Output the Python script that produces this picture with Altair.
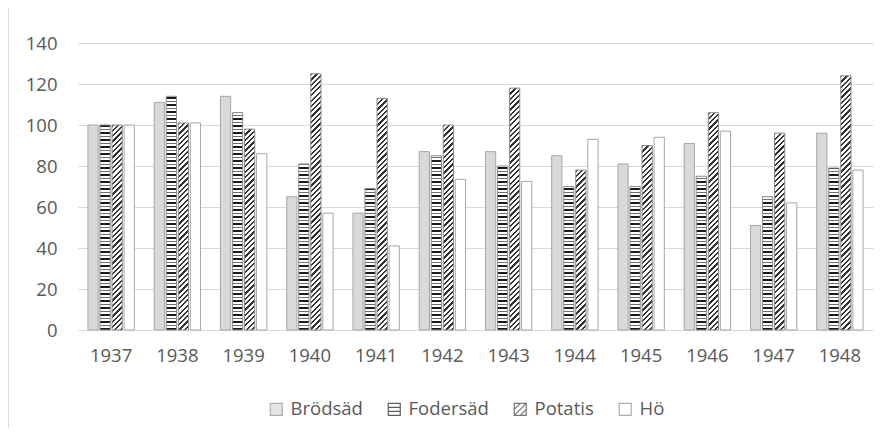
import math
import altair as alt
import pandas as pd

# ---------------- data ----------------
years = ["1937", "1938", "1939", "1940", "1941", "1942",
         "1943", "1944", "1945", "1946", "1947", "1948"]
series = ["Brödsäd", "Fodersäd", "Potatis", "Hö"]
brodsad = [100, 111, 114, 65, 57, 87, 87, 85, 81, 91, 51, 96]
fodersad = [100, 114, 106, 81, 69, 85, 80, 70, 70, 75, 65, 79]
potatis = [100, 101, 98, 125, 113, 100, 118, 78, 90, 106, 96, 124]
ho = [100, 101, 86, 57, 41, 73.5, 72.5, 93, 94, 97, 62, 78]
y_ticks = [0, 20, 40, 60, 80, 100, 120, 140]

values = {"Brödsäd": brodsad, "Fodersäd": fodersad, "Potatis": potatis, "Hö": ho}
rows = []
for s in series:
    for yr, v in zip(years, values[s]):
        rows.append({"year": yr, "series": s, "value": v})
df = pd.DataFrame(rows)

# ---------------- layout ----------------
W, H = 795, 287
YMAX = 140
PAD_L, PAD_T = 70, 35
CANVAS_W, CANVAS_H = 874, 420
X_PI, X_PO = 0.3, 0.15
OFF_PI = 0.15

FONT = "Open Sans"
TXT = "#595959"
GRID = "#d9d9d9"
OUTLINE = "#a6a6a6"

step = W / (len(years) - X_PI + 2 * X_PO)
group_bw = step * (1 - X_PI)
off_step = group_bw / (len(series) - OFF_PI)
bar_w = off_step * (1 - OFF_PI)


def px_height(v):
    return v / YMAX * H


def hard_stops(total, segs):
    stops = []
    d = 0.0
    while d < total:
        for length, col in segs:
            a = min(d / total, 1.0)
            b = min((d + length) / total, 1.0)
            stops.append({"offset": round(a, 5), "color": col})
            stops.append({"offset": round(b, 5), "color": col})
            d += length
            if d >= total:
                break
    return stops


def horiz_stripes(v):
    """Horizontal stripes (pattern fill) as a hard-stop gradient, aligned to the bar base."""
    h = px_height(v)
    segs = [(2.0, "#1a1a1a"), (2.0, "#ffffff"), (1.0, "#6e6e6e"), (2.0, "#ffffff")]
    return {"gradient": "linear", "x1": 0, "y1": 1, "x2": 0, "y2": 0,
            "stops": hard_stops(h, segs)}


def diag_stripes(v):
    """Diagonal '/' hatch as a hard-stop gradient in bounding-box units."""
    h = px_height(v)
    w = bar_w
    k = (1 / h + 1 / w) / (1 / h ** 2 + 1 / w ** 2)
    x2, y2 = k / h, k / w
    D = (w + h) / math.sqrt(2)
    period = 5.3 / math.sqrt(2)
    dark = period * 0.42
    segs = [(dark, "#333333"), (period - dark, "#ffffff")]
    return {"gradient": "linear", "x1": 0, "y1": 0, "x2": round(x2, 6), "y2": round(y2, 6),
            "stops": hard_stops(D, segs)}


x_enc = alt.X("year:N", sort=years,
              scale=alt.Scale(domain=years, paddingInner=X_PI, paddingOuter=X_PO),
              axis=alt.Axis(title=None, labelAngle=0, ticks=False, domain=True,
                            domainColor=GRID, grid=False, labelPadding=16))
off_enc = alt.XOffset("series:N", sort=series,
                      scale=alt.Scale(domain=series, paddingInner=OFF_PI, paddingOuter=0))
y_enc = alt.Y("value:Q", scale=alt.Scale(domain=[0, YMAX], nice=False),
              axis=alt.Axis(title=None, values=y_ticks, domain=False, ticks=False,
                            gridColor=GRID, labelPadding=21))

base = alt.Chart(df).encode(x=x_enc, xOffset=off_enc, y=y_enc)

layers = []
layers.append(base.transform_filter("datum.series == 'Brödsäd'")
              .mark_bar(fill="#d9d9d9", stroke=OUTLINE, strokeWidth=1))
for yr, v in zip(years, fodersad):
    layers.append(base.transform_filter(f"datum.series == 'Fodersäd' && datum.year == '{yr}'")
                  .mark_bar(fill=horiz_stripes(v), stroke="#8c8c8c", strokeWidth=1))
for yr, v in zip(years, potatis):
    layers.append(base.transform_filter(f"datum.series == 'Potatis' && datum.year == '{yr}'")
                  .mark_bar(fill=diag_stripes(v), stroke="#8c8c8c", strokeWidth=1))
layers.append(base.transform_filter("datum.series == 'Hö'")
              .mark_bar(fill="#ffffff", stroke=OUTLINE, strokeWidth=1))

# legend carrier (invisible points) with pattern-like symbols
shapes = [
    "square",
    "M-1,-1H1V1H-1Z M-1,-0.33H1 M-1,0.33H1",
    "M-1,-1H1V1H-1Z M-1,0L0,-1 M-1,1L1,-1 M0,1L1,0",
    "square",
]
fills = ["#d9d9d9", "#ffffff", "#ffffff", "#ffffff"]
strokes = ["#8c8c8c", "#1a1a1a", "#404040", "#8c8c8c"]
leg = alt.Legend(title=None, orient="none", direction="horizontal",
                 legendX=189, legendY=357, columnPadding=22, labelOffset=5,
                 symbolSize=144, symbolStrokeWidth=1.2, padding=0)
legend_layer = base.mark_point(size=0, filled=True).encode(
    color=alt.Color("series:N", sort=series, scale=alt.Scale(domain=series, range=fills), legend=leg),
    shape=alt.Shape("series:N", sort=series, scale=alt.Scale(domain=series, range=shapes), legend=leg),
    stroke=alt.Stroke("series:N", sort=series, scale=alt.Scale(domain=series, range=strokes), legend=leg),
)
layers.append(legend_layer)

# thin frame line at the left edge of the picture
frame = alt.Chart(df).mark_rule(color=GRID, strokeWidth=1).encode(
    x=alt.value(-PAD_L + 0.5), y=alt.value(-PAD_T), y2=alt.value(CANVAS_H - PAD_T)
)
layers.append(frame)

chart = alt.layer(*layers).properties(
    width=W, height=H,
    autosize=alt.AutoSizeParams(type="none"),
    padding={"left": PAD_L, "top": PAD_T,
             "right": CANVAS_W - PAD_L - W, "bottom": CANVAS_H - PAD_T - H},
).configure_view(stroke=None).configure_axis(
    labelFont=FONT, labelFontSize=18.5, labelColor=TXT
).configure_legend(
    labelFont=FONT, labelFontSize=18.5, labelColor=TXT
)

chart.save("out.html", embed_options={"renderer": "svg", "actions": False})
